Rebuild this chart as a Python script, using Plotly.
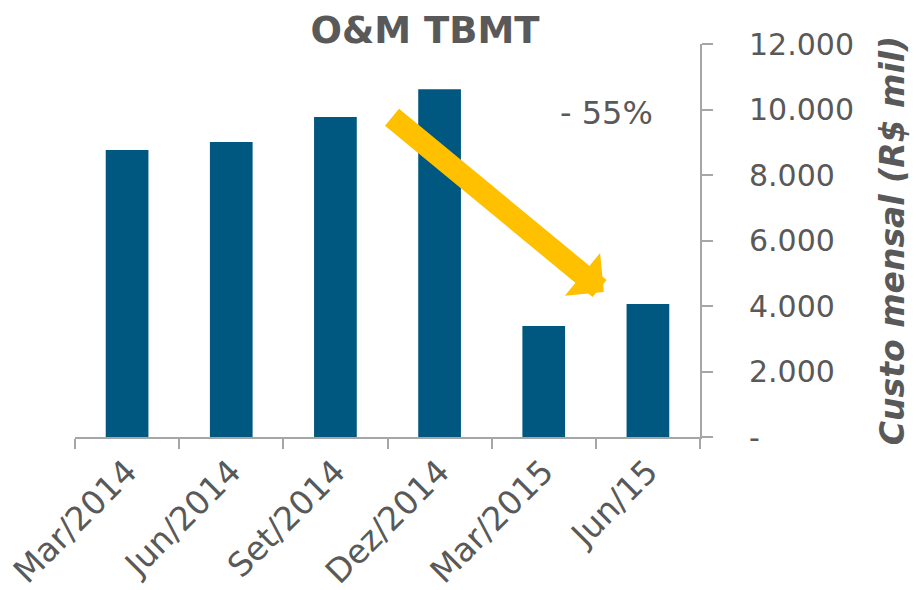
import plotly.graph_objects as go

categories = ["Mar/2014", "Jun/2014", "Set/2014", "Dez/2014", "Mar/2015", "Jun/15"]
values = [8760, 9010, 9770, 10620, 3390, 4060]
y_tickvals = [0, 2000, 4000, 6000, 8000, 10000, 12000]
y_ticktext = ["-", "2.000", "4.000", "6.000", "8.000", "10.000", "12.000"]
title_text = "O&M TBMT"
y_title = "Custo mensal (R$ mil)"
change_label = "- 55%"

FONT = "DejaVu Sans"
TXT = "#595959"
AX = "#A6A6A6"

fig = go.Figure()
fig.add_trace(go.Bar(
    x=categories, y=values,
    marker=dict(color="#00577F", line=dict(width=0)),
    width=0.41,
))

fig.update_layout(
    width=916, height=590,
    margin=dict(l=75, r=216, t=44, b=153, autoexpand=False),
    paper_bgcolor="white", plot_bgcolor="white",
    showlegend=False,
    font=dict(family=FONT, color=TXT, size=30),
    title=dict(text=title_text, x=0.464, xanchor="center", xref="container",
               y=1 - 30 / 590, yref="container", yanchor="middle",
               font=dict(family=FONT, size=37, color=TXT, weight="bold")),
    xaxis=dict(type="category", showline=True, linecolor=AX, linewidth=2,
               ticks="outside", tickson="boundaries", ticklen=10, tickcolor=AX, tickwidth=2,
               tickangle=-45, tickfont=dict(family=FONT, size=33, color=TXT),
               showgrid=False, zeroline=False, automargin=False),
    yaxis=dict(side="right", range=[0, 12000], showline=True, linecolor=AX, linewidth=2,
               ticks="outside", ticklen=11, tickcolor=AX, tickwidth=2,
               tickvals=y_tickvals, ticktext=y_ticktext,
               tickfont=dict(family=FONT, size=30, color=TXT),
               ticklabelstandoff=30, automargin=False,
               showgrid=False, zeroline=False,
               title=dict(text=y_title, standoff=28,
                          font=dict(family=FONT, size=33, color=TXT, weight="bold", style="italic"))),
)

fig.add_annotation(
    x=4.577, y=4427, ax=2.529, ay=9802,
    xref="x", yref="y", axref="x", ayref="y",
    showarrow=True, arrowhead=1, arrowwidth=22, arrowsize=0.42,
    arrowcolor="#FFC000", standoff=0, text="",
)
fig.add_annotation(
    x=4.6, y=9900, xref="x", yref="y", text=change_label, showarrow=False,
    font=dict(family=FONT, size=32, color=TXT), xanchor="center", yanchor="middle",
)

fig.write_html("out.html")
